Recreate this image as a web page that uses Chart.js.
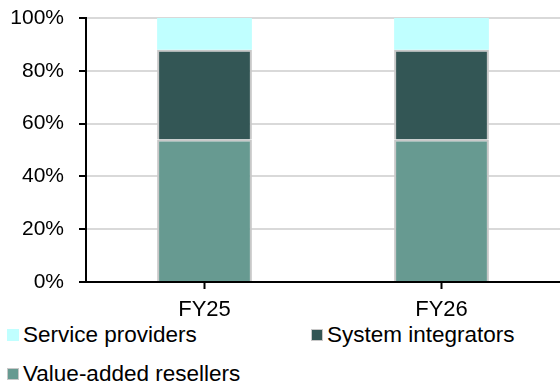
<!DOCTYPE html>
<html>
<head>
<meta charset="utf-8">
<script src="https://cdn.jsdelivr.net/npm/chart.js@4"></script>
<style>
  body { margin: 0; background: #fff; }
  #wrap { position: relative; width: 560px; height: 385px; font-family: Arial, "Liberation Sans", sans-serif; }
  #chartBox { position: absolute; left: 0; top: 0; width: 560px; height: 320px; }
  .item { position: absolute; font-size: 22.5px; color: #000; line-height: 22px; white-space: nowrap; }
  .swatch { position: absolute; left: 0; top: 5px; width: 12px; height: 12px; box-sizing: border-box; }
  .item span.txt { position: absolute; left: 16px; top: 0; }
</style>
</head>
<body>
<div id="wrap">
  <div id="chartBox"><canvas id="mixChart"></canvas></div>
  <div id="legend"></div>
</div>
<script>
// channel mix by fiscal year, in % of total
const categories = ["FY25", "FY26"];
const valueAddedResellers = [54, 54];
const systemIntegrators = [34, 34];
const serviceProviders = [12, 12];

const seriesNames = ["Service providers", "System integrators", "Value-added resellers"];
const seriesColors = ["#c0ffff", "#335655", "#679a91"];
const seriesBorders = ["#c0ffff", "#c8c8c8", "#c8c8c8"];

Chart.defaults.font.family = 'Arial, "Liberation Sans", sans-serif';
Chart.defaults.color = "#000";

const mixChart = new Chart("mixChart", {
  type: "bar",
  data: {
    labels: categories,
    datasets: [
      {
        label: seriesNames[2],
        data: valueAddedResellers,
        backgroundColor: seriesColors[2],
        borderColor: seriesBorders[2],
        borderWidth: 2,
      },
      {
        label: seriesNames[1],
        data: systemIntegrators,
        backgroundColor: seriesColors[1],
        borderColor: seriesBorders[1],
        borderWidth: 2,
      },
      {
        label: seriesNames[0],
        data: serviceProviders,
        backgroundColor: seriesColors[0],
        borderWidth: 0,
      },
    ],
  },
  options: {
    responsive: true,
    maintainAspectRatio: false,
    animation: false,
    layout: { padding: { top: 18, left: 0, right: 0, bottom: 0 } },
    plugins: {
      legend: { display: false },
      tooltip: { enabled: false },
    },
    datasets: {
      bar: { barPercentage: 0.8, categoryPercentage: 0.5 },
    },
    scales: {
      x: {
        stacked: true,
        afterFit: (scale) => {
          scale.height = 38;
          scale.paddingLeft = 0;
          scale.paddingRight = 0;
        },
        grid: {
          offset: false,
          drawOnChartArea: false,
          tickLength: 7,
          tickColor: "#000",
          tickWidth: 2,
        },
        border: { color: "#000", width: 2 },
        ticks: { font: { size: 22 }, padding: 8 },
      },
      y: {
        stacked: true,
        min: 0,
        max: 100,
        afterFit: (scale) => {
          scale.width = 86;
          scale.paddingTop = 0;
          scale.paddingBottom = 0;
        },
        grid: {
          color: "#d9d9d9",
          lineWidth: 2,
          tickLength: 7,
          tickColor: "#000",
          tickWidth: 2,
        },
        border: { color: "#000", width: 2 },
        ticks: {
          stepSize: 20,
          padding: 15,
          font: { size: 21 },
          callback: (v) => v + "%",
        },
      },
    },
  },
});

// legend laid out in two columns under the plot
const legendPos = [
  { left: 7, top: 324 },
  { left: 311, top: 324 },
  { left: 7, top: 363 },
];
const legend = document.getElementById("legend");
seriesNames.forEach((name, i) => {
  const item = document.createElement("div");
  item.className = "item";
  item.style.left = legendPos[i].left + "px";
  item.style.top = legendPos[i].top + "px";
  const sw = document.createElement("div");
  sw.className = "swatch";
  sw.style.background = seriesColors[i];
  if (i > 0) sw.style.border = "1px solid " + seriesBorders[i];
  const txt = document.createElement("span");
  txt.className = "txt";
  txt.textContent = name;
  item.appendChild(sw);
  item.appendChild(txt);
  legend.appendChild(item);
});
</script>
</body>
</html>
